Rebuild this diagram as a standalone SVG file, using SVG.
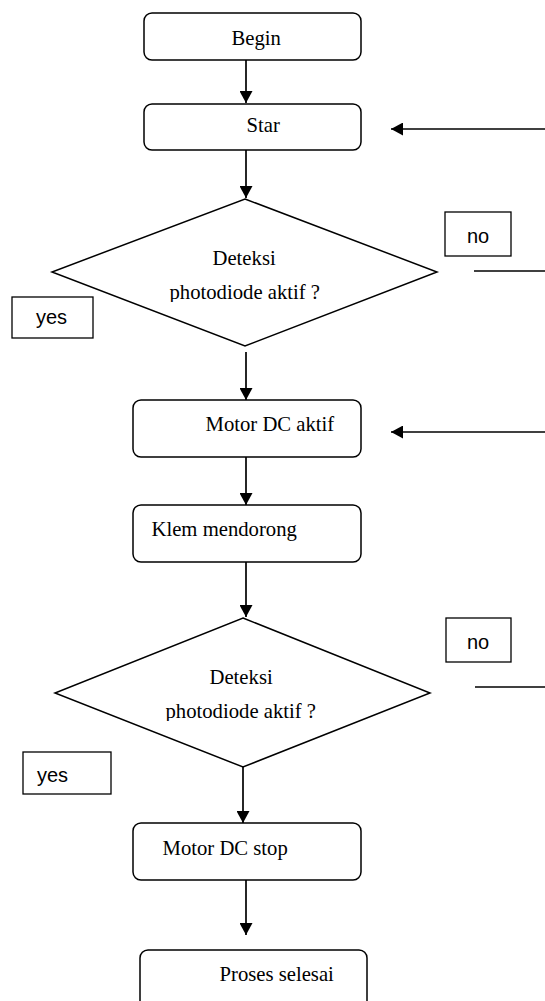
<svg xmlns="http://www.w3.org/2000/svg" width="545" height="1001" viewBox="0 0 545 1001">
<style>
.box{fill:#fff;stroke:#000;stroke-width:1.5}
.lbl{fill:#fff;stroke:#000;stroke-width:1.3}
.t{font-family:"Liberation Serif","Times New Roman",serif;font-size:20.7px;fill:#000}
.s{font-family:"Liberation Sans",Arial,sans-serif;font-size:20px;fill:#000}
.c{stroke:#000;stroke-width:1.7;fill:none}
.ca{stroke:#000;stroke-width:1.7;fill:none;marker-end:url(#ah)}
</style>
<defs>
<marker id="ah" viewBox="0 0 12 13" refX="12" refY="6.5" markerWidth="12" markerHeight="13" markerUnits="userSpaceOnUse" orient="auto">
<path d="M0,0 L12,6.5 L0,13 Z" fill="#000"/>
</marker>
<clipPath id="clip1"><rect x="0" y="270" width="545" height="32"/></clipPath>
<clipPath id="clip2"><rect x="0" y="690" width="545" height="31"/></clipPath>
</defs>
<rect width="545" height="1001" fill="#fff"/>
<g id="connectors">
<line class="ca" x1="246" y1="60" x2="246" y2="103"/>
<line class="ca" x1="246" y1="150" x2="246" y2="198"/>
<line class="ca" x1="545" y1="129" x2="391" y2="129"/>
<line class="c" x1="474" y1="271" x2="545" y2="271"/>
<line class="ca" x1="246" y1="352" x2="246" y2="400"/>
<line class="ca" x1="545" y1="432" x2="391" y2="432"/>
<line class="ca" x1="246" y1="457" x2="246" y2="505"/>
<line class="ca" x1="246" y1="562" x2="246" y2="617"/>
<line class="c" x1="475" y1="687" x2="545" y2="687"/>
<line class="ca" x1="243" y1="767" x2="243" y2="823"/>
<line class="ca" x1="246" y1="880" x2="246" y2="935"/>
</g>
<g id="begin">
<rect class="box" x="144" y="13" width="217" height="47" rx="8"/>
<text class="t" x="231.5" y="45">Begin</text>
</g>
<g id="star">
<rect class="box" x="144" y="104" width="217" height="46" rx="8"/>
<text class="t" x="246.5" y="132">Star</text>
</g>
<g id="decision1">
<polygon class="box" points="245,199 437,272 245,346 52,272"/>
<text class="t" x="212.5" y="265">Deteksi</text>
<text class="t" x="169.5" y="299" clip-path="url(#clip1)">photodiode aktif ?</text>
</g>
<g id="label-no1">
<rect class="lbl" x="445" y="212" width="66" height="44"/>
<text class="s" x="467" y="243">no</text>
</g>
<g id="label-yes1">
<rect class="lbl" x="12" y="297" width="81" height="41"/>
<text class="s" x="36" y="324">yes</text>
</g>
<g id="motor-aktif">
<rect class="box" x="133" y="400" width="228" height="57" rx="8"/>
<text class="t" x="205.5" y="431">Motor DC aktif</text>
</g>
<g id="klem">
<rect class="box" x="133" y="505" width="228" height="57" rx="8"/>
<text class="t" x="151.5" y="536">Klem mendorong</text>
</g>
<g id="decision2">
<polygon class="box" points="243,618 430,693 243,767 55,693"/>
<text class="t" x="209.5" y="684">Deteksi</text>
<text class="t" x="165.5" y="718" clip-path="url(#clip2)">photodiode aktif ?</text>
</g>
<g id="label-no2">
<rect class="lbl" x="446" y="618" width="65" height="44"/>
<text class="s" x="467" y="649">no</text>
</g>
<g id="label-yes2">
<rect class="lbl" x="23" y="752" width="88" height="42"/>
<text class="s" x="37" y="782">yes</text>
</g>
<g id="motor-stop">
<rect class="box" x="133" y="823" width="228" height="57" rx="8"/>
<text class="t" x="162.5" y="855">Motor DC stop</text>
</g>
<g id="selesai">
<rect class="box" x="140" y="950" width="227" height="70" rx="8"/>
<text class="t" x="219.5" y="981">Proses selesai</text>
</g>
</svg>
